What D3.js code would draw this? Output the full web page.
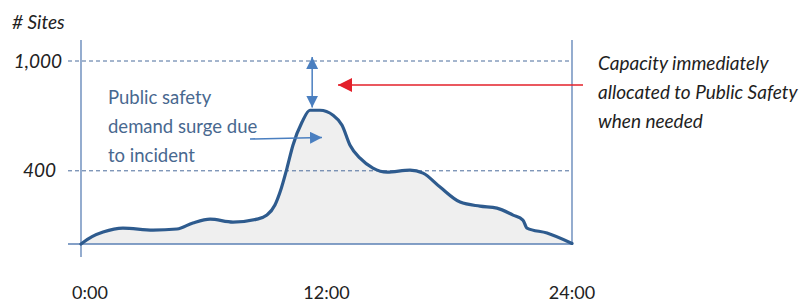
<!DOCTYPE html>
<html><head><meta charset="utf-8">
<script src="https://cdn.jsdelivr.net/npm/d3@7"></script>
<style>
html,body{margin:0;padding:0;background:#fff;}
text{font-family:Lato,"Open Sans",sans-serif;}
</style></head>
<body>
<svg id="chart" width="807" height="304"></svg>
<script>
// ---- data ----
const hours = [0,0.54,1.08,2.05,3.52,4.69,5.47,6.31,7.43,8.6,9.09,9.48,9.73,10.07,10.36,10.8,11.19,11.68,12.32,12.76,13.15,13.64,14.27,14.96,16.08,16.72,17.55,18.53,19.5,20.33,21.12,21.6,21.8,22.78,24];
const sites = [0,40,65,87,76,82,115,136,120,136,158,213,284,415,540,665,731,731,704,649,540,469,415,393,404,387,311,229,207,196,158,131,87,60,3];
const yTicks = [400, 1000];
const yTickLabels = ["400", "1,000"];
const xTicks = [0, 12, 24];
const xTickLabels = ["0:00", "12:00", "24:00"];
const yTitle = "# Sites";
const noteLeft = ["Public safety", "demand surge due", "to incident"];
const noteRight = ["Capacity immediately", "allocated to Public Safety", "when needed"];

const svg = d3.select("#chart");
const x = d3.scaleLinear().domain([0, 24]).range([81, 572]);
const y = d3.scaleLinear().domain([0, 1000]).range([244, 61]);

const axisBlue = "#5b80b5";
const lineBlue = "#2e5b8e";

// area fill
const area = d3.area().x((d,i)=>x(hours[i])).y0(y(0)).y1(d=>y(d)).curve(d3.curveMonotoneX);
svg.append("path").datum(sites).attr("d", area).attr("fill", "#efefef");

// dashed gridlines
svg.selectAll(".grid").data(yTicks).enter().append("line")
  .attr("x1", 68).attr("x2", 572)
  .attr("y1", d=>y(d)).attr("y2", d=>y(d))
  .attr("stroke", "#4a6c9c").attr("stroke-width", 1).attr("stroke-dasharray", "4,3");

// baseline
svg.append("line").attr("x1", 68).attr("x2", 572).attr("y1", y(0)).attr("y2", y(0))
  .attr("stroke", axisBlue).attr("stroke-width", 1.3);
// left axis
svg.append("line").attr("x1", x(0)).attr("x2", x(0)).attr("y1", 40).attr("y2", 257)
  .attr("stroke", axisBlue).attr("stroke-width", 1.3);
// right line
svg.append("line").attr("x1", x(24)).attr("x2", x(24)).attr("y1", 40).attr("y2", y(0))
  .attr("stroke", axisBlue).attr("stroke-width", 1.3);

// curve
const line = d3.line().x((d,i)=>x(hours[i])).y(d=>y(d)).curve(d3.curveMonotoneX);
svg.append("path").datum(sites).attr("d", line).attr("fill", "none")
  .attr("stroke", lineBlue).attr("stroke-width", 3.2).attr("stroke-linejoin", "round").attr("stroke-linecap", "round");

// y tick labels
svg.selectAll(".yl").data(yTicks).enter().append("text")
  .attr("x", (d,i)=> i===0 ? 56 : 62).attr("y", d=>y(d)).attr("dy", "0.35em")
  .attr("text-anchor", "end").attr("font-style", "italic").attr("font-size", 19).attr("fill", "#222")
  .text((d,i)=>yTickLabels[i]);

// y title
svg.append("text").attr("x", 12).attr("y", 29).attr("font-style", "italic").attr("font-size", 19).attr("fill", "#222").text(yTitle);

// x tick labels
svg.selectAll(".xl").data(xTicks).enter().append("text")
  .attr("x", (d,i)=> x(d) + (i===0 ? 9 : 0)).attr("y", 299)
  .attr("text-anchor", "middle").attr("font-size", 18).attr("fill", "#222")
  .text((d,i)=>xTickLabels[i]);

// markers
const defs = svg.append("defs");
function marker(id, color, w, h){
  defs.append("marker").attr("id", id).attr("viewBox", "0 0 10 10").attr("refX", 10).attr("refY", 5)
    .attr("markerUnits", "userSpaceOnUse").attr("markerWidth", w).attr("markerHeight", h).attr("orient", "auto-start-reverse")
    .append("path").attr("d", "M0,0L10,5L0,10Z").attr("fill", color);
}
const arrowBlue = "#4a7fc0";
marker("ab", arrowBlue, 12, 12);
marker("ar", "#e3202a", 14, 14);

// left note text
svg.append("text").attr("fill", "#48688f").attr("font-size", 18.5)
  .selectAll("tspan").data(noteLeft).enter().append("tspan")
  .attr("x", 108).attr("y", (d,i)=>104 + i*29).text(d=>d);

// arrow from note to area
svg.append("line").attr("x1", 250).attr("y1", 139).attr("x2", 322).attr("y2", 137.5)
  .attr("stroke", arrowBlue).attr("stroke-width", 1.5).attr("marker-end", "url(#ab)");

// double arrow capacity gap
svg.append("line").attr("x1", x(11.3)).attr("x2", x(11.3)).attr("y1", y(1000)-4).attr("y2", y(740)-1)
  .attr("stroke", arrowBlue).attr("stroke-width", 1.5)
  .attr("marker-start", "url(#ab)").attr("marker-end", "url(#ab)");

// red arrow
svg.append("line").attr("x1", 583).attr("y1", 85).attr("x2", 338).attr("y2", 85)
  .attr("stroke", "#e3202a").attr("stroke-width", 1.5).attr("marker-end", "url(#ar)");

// right note text
svg.append("text").attr("fill", "#1e1e1e").attr("font-size", 19).attr("font-style", "italic")
  .selectAll("tspan").data(noteRight).enter().append("tspan")
  .attr("x", 598).attr("y", (d,i)=>70 + i*29).text(d=>d);
</script>
</body></html>
